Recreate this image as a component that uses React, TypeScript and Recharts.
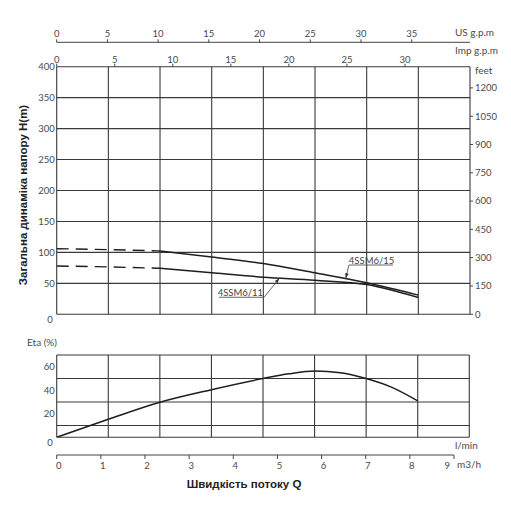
import React from 'react';
import {
  ComposedChart,
  Line,
  XAxis,
  YAxis,
  CartesianGrid,
  ReferenceLine,
  ReferenceDot,
} from 'recharts';

// ---------- data ----------
const FLOW_LMIN = [0, 20, 40, 60, 80, 100, 120, 140];
const HEAD_15 = [106, 104.5, 102.3, 92.5, 82, 67, 51, 31];
const HEAD_11 = [78, 76.5, 74.3, 67, 60, 55, 48, 27];
const DASH_LIMIT = 40;

const ETA_FLOW = [0, 20, 40, 60, 80, 90, 100, 110, 120, 130, 140];
const ETA_VALUES = [0, 15.3, 29.8, 40.5, 50, 54, 56.4, 55, 50, 42.5, 31];

const GRID_FLOW_TICKS = [0, 20, 40, 60, 80, 100, 120, 140, 160];
const ETA_FLOW_LABELS = [20, 40, 60, 80, 100, 120, 140];
const HEAD_TICKS = [0, 50, 100, 150, 200, 250, 300, 350, 400];
const FEET_TICKS = [0, 150, 300, 450, 600, 750, 900, 1050, 1200];
const US_GPM_TICKS = [0, 5, 10, 15, 20, 25, 30, 35];
const IMP_GPM_TICKS = [0, 5, 10, 15, 20, 25, 30];
const ETA_TICKS = [0, 20, 40, 60];
const ETA_GRID_TICKS = [0, 10, 20, 30, 40, 50, 60, 70];
const M3H_TICKS = [0, 1, 2, 3, 4, 5, 6, 7, 8, 9];

const FLOW_MAX = 160;
const HEAD_MAX = 400;
const FEET_MAX = 1312.3;
const US_GPM_MAX = 40.75;
const IMP_GPM_MAX = 35.6;
const ETA_MAX = 70;
const M3H_MAX = 9;

const headRows = FLOW_LMIN.map((q, i) => ({
  q,
  h15d: q <= DASH_LIMIT ? HEAD_15[i] : null,
  h15s: q >= DASH_LIMIT ? HEAD_15[i] : null,
  h11d: q <= DASH_LIMIT ? HEAD_11[i] : null,
  h11s: q >= DASH_LIMIT ? HEAD_11[i] : null,
}));

const etaRows = ETA_FLOW.map((q, i) => ({ q, eta: ETA_VALUES[i] }));
const m3Rows = M3H_TICKS.map((m) => ({ m }));

// ---------- styles ----------
const NUM_FONT = 'Lato, "Open Sans", sans-serif';
const TITLE_FONT = '"Liberation Sans", Arial, sans-serif';
const tickStyle = { fontSize: 9.5, fill: '#4a4a4a', fontFamily: NUM_FONT };
const GRID = '#3a3a3a';
const CURVE = '#1e1e1e';

const arrow = (angleDeg: number) => (props: any) => {
  const { cx, cy } = props;
  if (cx == null || cy == null) return null;
  const a = (angleDeg * Math.PI) / 180;
  const len = 5;
  const hw = 1.8;
  const bx = cx - len * Math.cos(a);
  const by = cy - len * Math.sin(a);
  const px = -Math.sin(a) * hw;
  const py = Math.cos(a) * hw;
  return (
    <polygon
      points={`${cx},${cy} ${bx + px},${by + py} ${bx - px},${by - py}`}
      fill="#333"
    />
  );
};

const LeftTick = (props: any) => {
  const { x, y, payload } = props;
  const zero = payload.value === 0;
  return (
    <text
      x={zero ? x - 2 : x}
      y={zero ? y + 5 : y}
      dy={3.3}
      textAnchor="end"
      fontSize={9.5}
      fill="#4a4a4a"
      fontFamily={NUM_FONT}
    >
      {payload.value}
    </text>
  );
};

const BottomTick = (props: any) => {
  const { x, y, payload } = props;
  return (
    <text x={x} y={y} dy={7.5} textAnchor="middle" fontSize={9.5} fill="#4a4a4a" fontFamily={NUM_FONT}>
      {payload.value}
    </text>
  );
};

const M3Tick = (props: any) => {
  const { x, y, payload } = props;
  const last = payload.value === M3H_TICKS[M3H_TICKS.length - 1];
  return (
    <text
      x={last ? x - 4 : x + 2}
      y={y}
      dy={8}
      textAnchor={last ? 'end' : 'middle'}
      fontSize={9.5}
      fill="#4a4a4a"
      fontFamily={NUM_FONT}
    >
      {payload.value}
    </text>
  );
};

const Txt = ({ x, y, children, style }: any) => (
  <div
    style={{
      position: 'absolute',
      left: x,
      top: y,
      transform: 'translateY(-50%)',
      whiteSpace: 'nowrap',
      lineHeight: 1,
      fontFamily: NUM_FONT,
      fontSize: 10,
      color: '#4a4a4a',
      ...style,
    }}
  >
    {children}
  </div>
);

export default function App() {
  return (
    <div style={{ position: 'absolute', left: 0, top: 0, width: 511, height: 512, background: '#fff' }}>
      {/* Head chart */}
      <div style={{ position: 'absolute', left: 0, top: 0 }}>
        <ComposedChart
          width={511}
          height={330}
          data={headRows}
          margin={{ top: 0, right: 0, bottom: 15.7, left: 0 }}
        >
          <XAxis xAxisId="q" type="number" dataKey="q" domain={[0, FLOW_MAX]} ticks={GRID_FLOW_TICKS} allowDataOverflow hide />
          <XAxis
            xAxisId="imp"
            orientation="top"
            type="number"
            dataKey="q"
            domain={[0, IMP_GPM_MAX]}
            allowDataOverflow
            ticks={IMP_GPM_TICKS}
            interval={0}
            height={24.4}
            axisLine={false}
            tickSize={3}
            tickMargin={1}
            stroke="#444"
            tick={tickStyle}
          />
          <XAxis
            xAxisId="us"
            orientation="top"
            type="number"
            dataKey="q"
            domain={[0, US_GPM_MAX]}
            allowDataOverflow
            ticks={US_GPM_TICKS}
            interval={0}
            height={42.3}
            tickSize={3}
            tickMargin={2}
            stroke="#444"
            tick={tickStyle}
          />
          <YAxis
            yAxisId="h"
            type="number"
            domain={[0, HEAD_MAX]}
            allowDataOverflow
            ticks={HEAD_TICKS}
            interval={0}
            width={56.7}
            axisLine={false}
            tickLine={false}
            tickSize={0}
            tickMargin={2}
            tick={<LeftTick />}
          />
          <YAxis
            yAxisId="ft"
            orientation="right"
            type="number"
            dataKey="h15s"
            domain={[0, FEET_MAX]}
            allowDataOverflow
            ticks={FEET_TICKS}
            interval={0}
            width={41}
            axisLine={false}
            tickSize={3}
            tickMargin={2}
            stroke="#444"
            tick={tickStyle}
          />
          <CartesianGrid xAxisId="q" yAxisId="h" stroke={GRID} strokeWidth={1.1} />
          <Line xAxisId="q" yAxisId="h" dataKey="h15d" type="monotone" stroke={CURVE} strokeWidth={1.4} strokeDasharray="12 7" dot={false} isAnimationActive={false} connectNulls={false} />
          <Line xAxisId="q" yAxisId="h" dataKey="h15s" type="monotone" stroke={CURVE} strokeWidth={1.5} dot={false} isAnimationActive={false} connectNulls={false} />
          <Line xAxisId="q" yAxisId="h" dataKey="h11d" type="monotone" stroke={CURVE} strokeWidth={1.4} strokeDasharray="12 7" dot={false} isAnimationActive={false} connectNulls={false} />
          <Line xAxisId="q" yAxisId="h" dataKey="h11s" type="monotone" stroke={CURVE} strokeWidth={1.5} dot={false} isAnimationActive={false} connectNulls={false} />

          {/* 4SSM6/15 annotation */}
          <ReferenceLine xAxisId="q" yAxisId="h" segment={[{ x: 113.1, y: 79.6 }, { x: 130.2, y: 79.6 }]} stroke="#444" strokeWidth={0.8} />
          <ReferenceLine xAxisId="q" yAxisId="h" segment={[{ x: 113.1, y: 79.6 }, { x: 111.9, y: 58.2 }]} stroke="#444" strokeWidth={0.8} />
          <ReferenceDot xAxisId="q" yAxisId="h" x={111.9} y={58.2} r={0} shape={arrow(104)} />
          <ReferenceDot
            xAxisId="q"
            yAxisId="h"
            x={121.9}
            y={86.6}
            r={0}
            fill="none"
            stroke="none"
            label={{ value: '4SSM6/15', position: 'center', fontSize: 9.5, fill: '#444', fontFamily: NUM_FONT }}
          />

          {/* 4SSM6/11 annotation */}
          <ReferenceLine xAxisId="q" yAxisId="h" segment={[{ x: 62.8, y: 27.5 }, { x: 80.3, y: 27.5 }]} stroke="#444" strokeWidth={0.8} />
          <ReferenceLine xAxisId="q" yAxisId="h" segment={[{ x: 80.3, y: 27.5 }, { x: 86.2, y: 58.2 }]} stroke="#444" strokeWidth={0.8} />
          <ReferenceDot xAxisId="q" yAxisId="h" x={86.2} y={58.2} r={0} shape={arrow(-51)} />
          <ReferenceDot
            xAxisId="q"
            yAxisId="h"
            x={71.1}
            y={35.5}
            r={0}
            fill="none"
            stroke="none"
            label={{ value: '4SSM6/11', position: 'center', fontSize: 9.5, fill: '#444', fontFamily: NUM_FONT }}
          />
        </ComposedChart>
      </div>

      {/* Efficiency chart */}
      <div style={{ position: 'absolute', left: 0, top: 340 }}>
        <ComposedChart
          width={511}
          height={111.3}
          data={etaRows}
          margin={{ top: 15, right: 41.7, bottom: 0, left: 0 }}
        >
          <XAxis xAxisId="g" type="number" dataKey="q" domain={[0, FLOW_MAX]} allowDataOverflow ticks={GRID_FLOW_TICKS} hide />
          <XAxis
            xAxisId="l"
            type="number"
            dataKey="q"
            domain={[0, FLOW_MAX]}
            allowDataOverflow
            ticks={ETA_FLOW_LABELS}
            interval={0}
            height={14}
            axisLine={false}
            tickLine={false}
            tickSize={0}
            tickMargin={2}
            tick={<BottomTick />}
          />
          <YAxis
            yAxisId="e"
            type="number"
            domain={[0, ETA_MAX]}
            allowDataOverflow
            ticks={ETA_TICKS}
            interval={0}
            width={56.7}
            axisLine={false}
            tickLine={false}
            tickSize={0}
            tickMargin={2}
            tick={<LeftTick />}
          />
          <YAxis yAxisId="eg" type="number" dataKey="eta" domain={[0, ETA_MAX]} allowDataOverflow ticks={ETA_GRID_TICKS} hide />
          <CartesianGrid xAxisId="g" yAxisId="eg" stroke={GRID} strokeWidth={1.1} />
          <Line xAxisId="g" yAxisId="e" dataKey="eta" type="monotone" stroke={CURVE} strokeWidth={1.5} dot={false} isAnimationActive={false} />
        </ComposedChart>
      </div>

      {/* m3/h axis */}
      <div style={{ position: 'absolute', left: 0, top: 450 }}>
        <ComposedChart width={511} height={35} data={m3Rows} margin={{ top: 0, right: 57, bottom: 0, left: 56.7 }}>
          <XAxis
            type="number"
            dataKey="m"
            domain={[0, M3H_MAX]}
            allowDataOverflow
            ticks={M3H_TICKS}
            interval={0}
            height={30}
            tickSize={4}
            tickMargin={2}
            stroke="#444"
            tick={<M3Tick />}
          />
        </ComposedChart>
      </div>

      {/* text labels */}
      <Txt x={455} y={32}>US g.p.m</Txt>
      <Txt x={455} y={50}>Imp g.p.m</Txt>
      <Txt x={475} y={70}>feet</Txt>
      <Txt x={27} y={342}>Eta (%)</Txt>
      <Txt x={455} y={445}>l/min</Txt>
      <Txt x={457} y={464}>m3/h</Txt>
      <div
        style={{
          position: 'absolute',
          left: 23.5,
          top: 195,
          transform: 'translate(-50%, -50%) rotate(-90deg)',
          whiteSpace: 'nowrap',
          fontFamily: TITLE_FONT,
          fontWeight: 'bold',
          fontSize: 11.5,
          lineHeight: 1,
          color: '#222',
        }}
      >
        Загальна динаміка напору H(m)
      </div>
      <div
        style={{
          position: 'absolute',
          left: 244,
          top: 485,
          transform: 'translate(-50%, -50%)',
          whiteSpace: 'nowrap',
          fontFamily: TITLE_FONT,
          fontWeight: 'bold',
          fontSize: 11.5,
          lineHeight: 1,
          color: '#222',
        }}
      >
        Швидкість потоку Q
      </div>
    </div>
  );
}
